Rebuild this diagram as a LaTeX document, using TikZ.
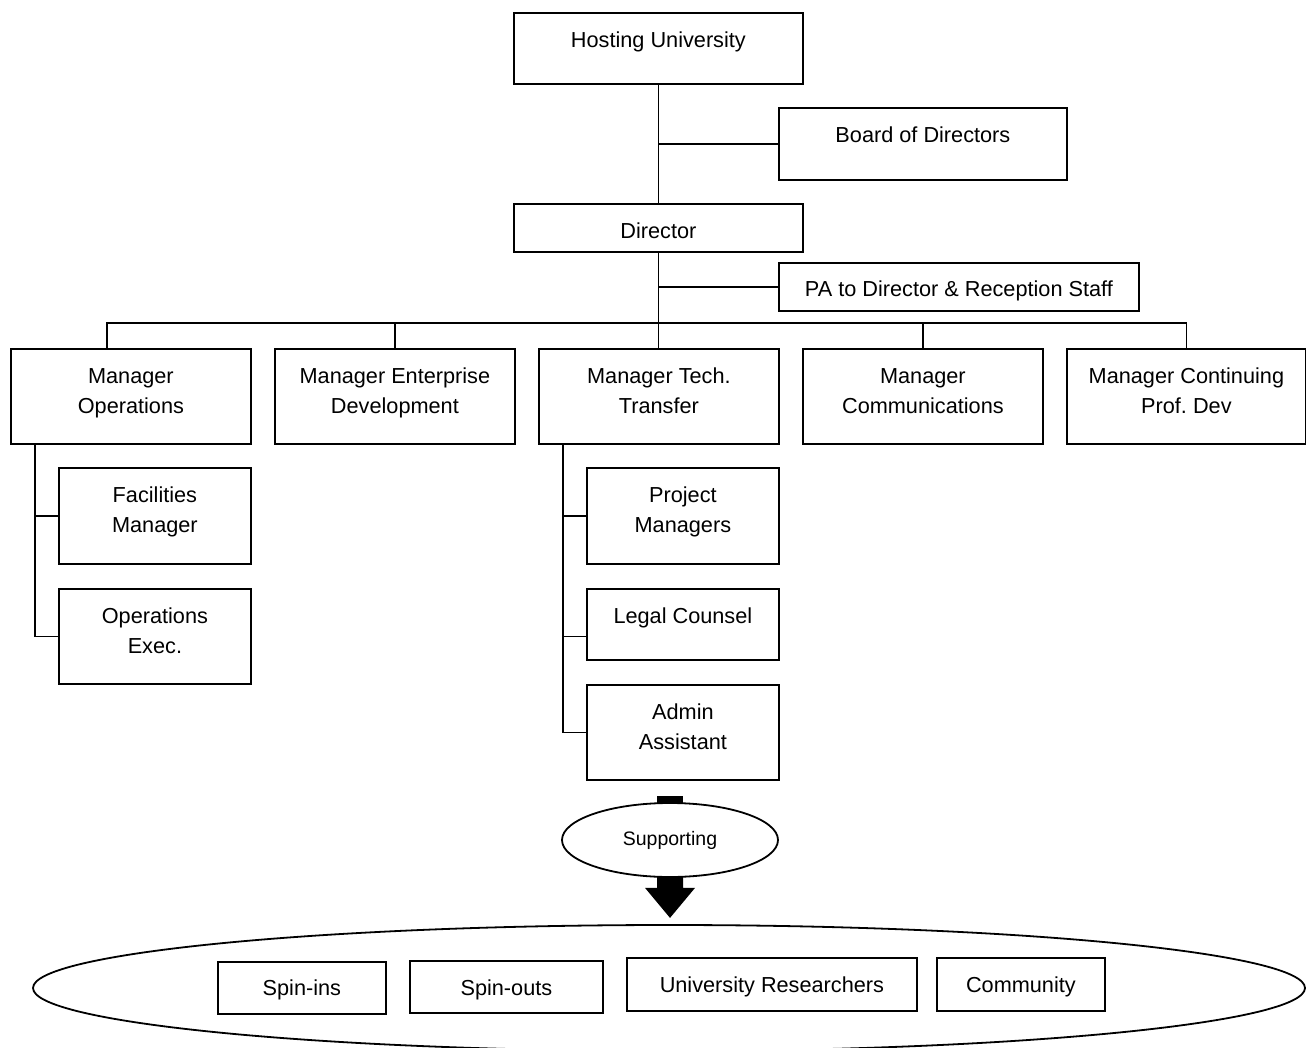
\documentclass[tikz,border=0pt]{standalone}
\usepackage{fontspec}
\setmainfont{Liberation Sans}
\usetikzlibrary{shapes.geometric,calc}
\frenchspacing
\newcommand\stacktxt[1]{\begin{tabular}[t]{@{}c@{}}#1\end{tabular}}
\begin{document}
\begin{tikzpicture}[x=1pt,y=-1pt,
  font=\fontsize{21.7}{30}\selectfont,
  box/.style={draw, line width=1.8pt, inner sep=0pt, anchor=north west, text height=35pt, fill=white},
  link/.style={draw, line width=1.8pt},
  oval/.style={ellipse, draw, line width=1.8pt, inner sep=0pt}
]
\useasboundingbox (0,0) rectangle (1306,1048);

% big target ellipse
\node[oval, minimum width=1272pt, minimum height=126pt] (big) at (669,988) {};

% top levels
\node[box, minimum width=289pt, text depth=36pt] (hu) at (513,12) {Hosting University};
\node[box, minimum width=288pt, text depth=37pt] (bod) at (778,107) {Board of Directors};
\node[box, minimum width=289pt, text depth=13pt] (dir) at (513,203) {Director};
\node[box, minimum width=360pt, text height=34pt, text depth=14pt] (pa) at (778,262) {PA to Director \& Reception Staff};

% managers
\node[box, minimum width=240pt, text depth=60pt] (ops) at (10,348) {\stacktxt{Manager\\Operations}};
\node[box, minimum width=240pt, text depth=60pt] (ent) at (274,348) {\stacktxt{Manager Enterprise\\Development}};
\node[box, minimum width=240pt, text depth=60pt] (tech) at (538,348) {\stacktxt{Manager Tech.\\Transfer}};
\node[box, minimum width=240pt, text depth=60pt] (com) at (802,348) {\stacktxt{Manager\\Communications}};
\node[box, minimum width=239pt, text depth=60pt] (cont) at (1066,348) {\stacktxt{Manager Continuing\\Prof. Dev}};

% operations staff
\node[box, minimum width=192pt, text depth=61pt] (fac) at (58,467) {\stacktxt{Facilities\\Manager}};
\node[box, minimum width=192pt, text depth=60pt] (oe) at (58,588) {\stacktxt{Operations\\Exec.}};

% tech transfer staff
\node[box, minimum width=192pt, text depth=61pt] (pm) at (586,467) {\stacktxt{Project\\Managers}};
\node[box, minimum width=192pt, text depth=36pt] (lc) at (586,588) {Legal Counsel};
\node[box, minimum width=192pt, text depth=60pt] (aa) at (586,684) {\stacktxt{Admin\\Assistant}};

% supported groups
\node[box, minimum width=168pt, text height=34pt, text depth=18pt] (si) at (217,961) {Spin-ins};
\node[box, minimum width=193pt, text depth=17pt] (so) at (409,960) {Spin-outs};
\node[box, minimum width=290pt, text depth=18pt] (ur) at (626,957) {University Researchers};
\node[box, minimum width=168pt, text depth=18pt] (cm) at (936,957) {Community};

% connectors
\coordinate (bus) at (657.5,323);
\draw[link] (hu.south) -- (dir.north);
\draw[link] (dir.south) -- (dir.south |- tech.north);
\draw[link] (bod.west) -- (bod.west -| hu.south);
\draw[link] (pa.west) -- (pa.west -| dir.south);
\draw[link] ([xshift=-24pt]ops.north) |- (bus) -| (cont.north);
\draw[link] (ent.north) -- (ent.north |- bus);
\draw[link] (com.north) -- (com.north |- bus);

\coordinate (opstrunk) at ([xshift=-96pt]ops.south);
\draw[link] (opstrunk) |- (oe.west);
\draw[link] (fac.west) -- (fac.west -| opstrunk);

\coordinate (techtrunk) at ([xshift=-96pt]tech.south);
\draw[link] (techtrunk) |- (aa.west);
\draw[link] (pm.west) -- (pm.west -| techtrunk);
\draw[link] ([yshift=-12pt]lc.west) -- ([yshift=-12pt]lc.west -| techtrunk);

% supporting block arrow
\fill[black] (657,796) rectangle (683,820);
\node[oval, fill=white, minimum width=216pt, minimum height=74pt, font=\fontsize{19.5}{23}\selectfont] (sup) at (670,840) {Supporting};
\fill[black] ([xshift=-13pt,yshift=1pt]sup.south) -- ([xshift=13pt,yshift=1pt]sup.south)
  -- ([xshift=13pt,yshift=-10pt]sup.south) -- ([xshift=25pt,yshift=-10pt]sup.south)
  -- ([yshift=-40pt]sup.south) -- ([xshift=-25pt,yshift=-10pt]sup.south)
  -- ([xshift=-13pt,yshift=-10pt]sup.south) -- cycle;
\end{tikzpicture}
\end{document}
